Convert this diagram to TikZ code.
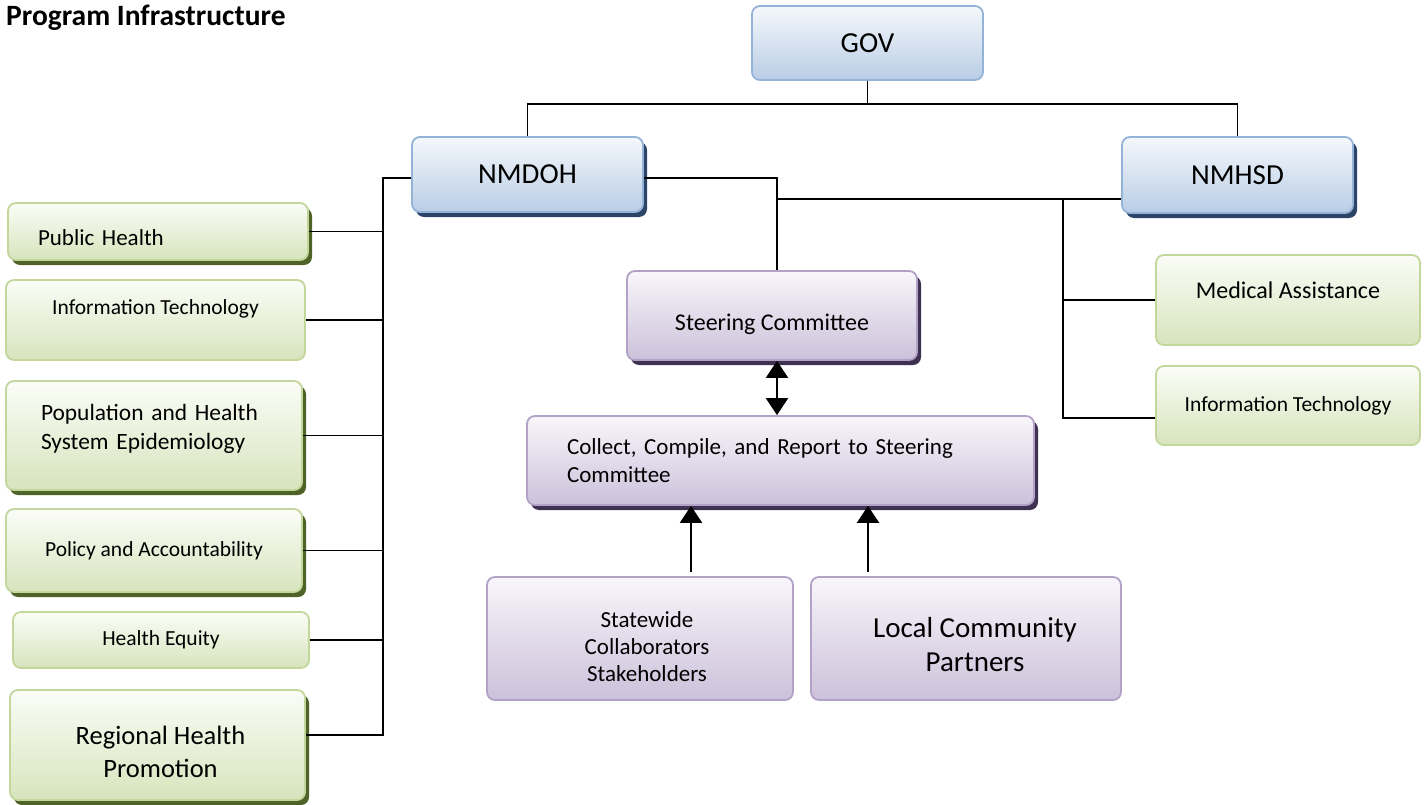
\documentclass[tikz,border=0pt]{standalone}
\usepackage{fontspec}
\setmainfont{Carlito}
\usetikzlibrary{arrows.meta,shadows}

\definecolor{bluetop}{HTML}{F5F8FC}
\definecolor{bluebot}{HTML}{B9CDE5}
\definecolor{blueline}{HTML}{95B3D7}
\definecolor{blueshade}{HTML}{2C4468}
\definecolor{greentop}{HTML}{FBFDF7}
\definecolor{greenbot}{HTML}{D7E4BD}
\definecolor{greenline}{HTML}{C3D69B}
\definecolor{greenshade}{HTML}{4F6228}
\definecolor{purpletop}{HTML}{F8F6FB}
\definecolor{purplebot}{HTML}{CCC1DA}
\definecolor{purpleline}{HTML}{B3A2C7}
\definecolor{purpleshade}{HTML}{3F3151}

% struts to push a text block down (first line) or up (last line)
\newcommand{\strutdown}[1]{\rule{0pt}{#1}}
\newcommand{\strutup}[1]{\rule[-#1]{0pt}{#1}}
\newcommand{\nudge}[1]{\hspace*{#1}}
\newcommand{\fs}[2]{\fontsize{#1}{#2}\selectfont}

\tikzset{
  box/.style={rounded corners=8pt, line width=1.8pt, inner sep=0pt, align=center},
  bluebox/.style={box, draw=blueline, top color=bluetop, middle color=bluebot!70!bluetop, bottom color=bluebot, font=\fs{29}{34}},
  greenbox/.style={box, draw=greenline, top color=greentop, middle color=greenbot!70!greentop, bottom color=greenbot},
  purplebox/.style={box, draw=purpleline, top color=purpletop, middle color=purplebot!70!purpletop, bottom color=purplebot},
  dark/.style={drop shadow={shadow xshift=4pt, shadow yshift=-5pt, fill=#1, opacity=1}},
  lift/.style={text depth=#1},
  sink/.style={text height=#1},
  link/.style={line width=1.6pt},
  arr/.style={line width=2.2pt, -{Triangle[width=22pt,length=17pt]}}
}

\begin{document}
\begin{tikzpicture}[x=1pt,y=-1pt]
    \useasboundingbox (0,0) rectangle (1426,805);

    \node[anchor=north west, font=\bfseries\fs{29.5}{34}, inner sep=0pt] (title) at (6,5) {Program Infrastructure};

    % top level
    \node[bluebox, minimum width=231pt, minimum height=74pt] (gov) at (867.5,43) {GOV};
    \node[bluebox, dark=blueshade, minimum width=231pt, minimum height=75pt] (doh) at (527.5,174.5) {NMDOH};
    \node[bluebox, dark=blueshade, minimum width=231pt, minimum height=76pt] (hsd) at (1237.5,175) {NMHSD};

    % NMDOH branches
    \node[greenbox, dark=greenshade, minimum width=300pt, minimum height=57pt, text width=240pt, align=left, sink=28pt, font=\fs{23}{27}] (ph) at (158,231.5) {Public Health};
    \node[greenbox, minimum width=299pt, minimum height=80pt, lift=26pt, font=\fs{21.5}{25}] (itl) at (155.5,320) {Information Technology};
    \node[greenbox, dark=greenshade, minimum width=296pt, minimum height=109pt, text width=226pt, align=left, font=\fs{23.4}{29}] (pop) at (154,435.5) {Population and Health\\System Epidemiology\strutup{18pt}};
    \node[greenbox, dark=greenshade, minimum width=296pt, minimum height=83pt, font=\fs{21.5}{25}] (pol) at (154,550.5) {Policy and Accountability};
    \node[greenbox, minimum width=296pt, minimum height=56pt, font=\fs{21.5}{25}] (eq) at (161,640) {Health Equity};
    \node[greenbox, dark=greenshade, minimum width=295pt, minimum height=110pt, font=\fs{26.5}{33}] (reg) at (157.5,745) {\strutdown{32pt}\nudge{6pt}Regional Health\\\nudge{6pt}Promotion};

    % NMHSD branches
    \node[greenbox, minimum width=264pt, minimum height=90pt, lift=20pt, font=\fs{24}{28}] (med) at (1288,300) {Medical Assistance};
    \node[greenbox, minimum width=264pt, minimum height=79pt, font=\fs{21.5}{25}] (itr) at (1288,405.5) {Information Technology};

    % committee
    \node[purplebox, dark=purpleshade, minimum width=290pt, minimum height=89pt, sink=34pt, font=\fs{24}{28}] (steer) at (772,315.5) {Steering Committee};
    \node[purplebox, dark=purpleshade, minimum width=507pt, minimum height=89pt, text width=427pt, align=left, font=\fs{23}{28}] (collect) at (780.5,460.5) {Collect, Compile, and Report to Steering\\Committee};
    \node[purplebox, minimum width=306pt, minimum height=123pt, font=\fs{23}{27}] (sw) at (640,638.5) {\strutdown{32pt}\nudge{14pt}Statewide\\\nudge{14pt}Collaborators\\\nudge{14pt}Stakeholders};
    \node[purplebox, minimum width=310pt, minimum height=123pt, font=\fs{29}{34}] (lcp) at (966,638.5) {\strutdown{32pt}\nudge{18pt}Local Community\\\nudge{18pt}Partners};

    % connectors
    \coordinate (govbus) at (867.5,104);
    \coordinate (lbus) at (383,178);
    \coordinate (rbus) at (777,178);
    \coordinate (hbus) at (777,199);
    \coordinate (mbus) at (1063,199);
    \coordinate (regin) at ([yshift=10pt]reg.east);
    \coordinate (itrin) at ([yshift=-12.5pt]itr.west);

    \draw[link] (gov) -- (govbus) -| (doh);
    \draw[link] (govbus) -| (hsd);

    \draw[link] (doh.west |- lbus) -- (lbus) -- (regin -| lbus) -- (regin);
    \foreach \b in {ph,itl,pop,pol,eq}
        \draw[link] (\b.east) -- (\b.east -| lbus);

    \draw[link] (doh.east |- rbus) -- (rbus) -- (rbus |- steer.north);
    \draw[link] (hbus) -- (hbus -| hsd.west);
    \draw[link] (mbus) |- (itrin);
    \draw[link] (mbus |- med.west) -- (med.west);

    \draw[arr, {Triangle[width=22pt,length=17pt]}-{Triangle[width=22pt,length=17pt]}] (rbus |- steer.south) -- (rbus |- collect.north);
    \draw[arr] ([xshift=51pt,yshift=4pt]sw.north) -- ([xshift=51pt]sw.north |- collect.south);
    \draw[arr] ([xshift=-98pt,yshift=4pt]lcp.north) -- ([xshift=-98pt]lcp.north |- collect.south);

\end{tikzpicture}
\end{document}
